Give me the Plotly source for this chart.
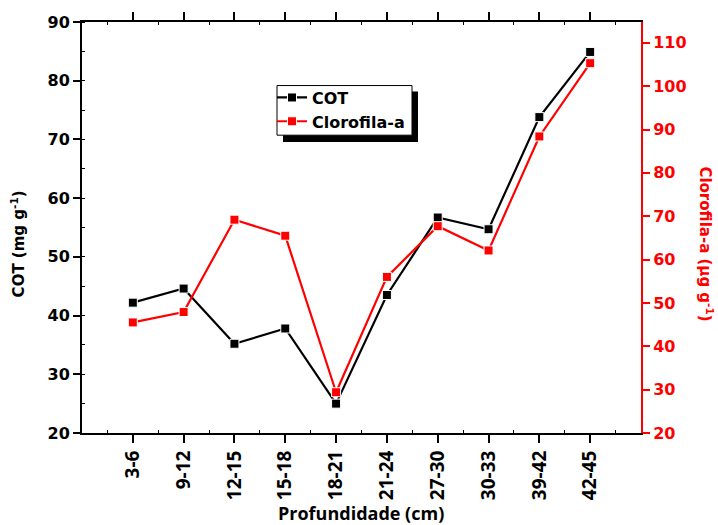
import plotly.graph_objects as go

categories = ["3-6", "9-12", "12-15", "15-18", "18-21", "21-24", "27-30", "30-33", "39-42", "42-45"]
cot = [42.2, 44.6, 35.2, 37.8, 25.0, 43.5, 56.7, 54.7, 73.8, 84.9]
clorofila = [45.5, 47.9, 69.2, 65.5, 29.4, 56.0, 67.7, 62.1, 88.4, 105.3]
left_ticks = [20, 30, 40, 50, 60, 70, 80, 90]
right_ticks = [20, 30, 40, 50, 60, 70, 80, 90, 100, 110]

xi = list(range(len(categories)))
YF = "DejaVu Sans"
XF = "Open Sans"

fig = go.Figure()
fig.add_trace(go.Scatter(
    x=xi, y=cot, name="COT", mode="lines+markers",
    line=dict(color="black", width=2.2),
    marker=dict(symbol="square", size=9, color="black", line=dict(color="white", width=1)),
))
fig.add_trace(go.Scatter(
    x=xi, y=clorofila, name="Clorofila-a", mode="lines+markers", yaxis="y2",
    line=dict(color="#ff0000", width=2.2),
    marker=dict(symbol="square", size=9, color="#ff0000", line=dict(color="white", width=1)),
))

L, R, T, B = 82, 77, 19, 92
W, H = 718, 525
pw, ph = W - L - R, H - T - B

def px(x):
    return (x - L) / pw

def py(y):
    return (H - B - y) / ph

fig.update_layout(
    width=W, height=H,
    margin=dict(l=L, r=R, t=T, b=B, pad=0),
    plot_bgcolor="white", paper_bgcolor="white",
    showlegend=True,
    legend=dict(
        x=px(272), y=py(78), xanchor="left", yanchor="top",
        bgcolor="rgba(0,0,0,0)", borderwidth=0,
        font=dict(family=YF, size=16, color="black", weight="bold"),
        itemwidth=30, tracegroupgap=0,
    ),
    xaxis=dict(
        range=[-1, 10], tickmode="array", tickvals=xi, ticktext=categories,
        tickangle=-90, ticks="outside", ticklen=8, tickwidth=2, tickcolor="black",
        showline=True, linecolor="black", linewidth=2, mirror="ticks",
        showgrid=False, zeroline=False,
        tickfont=dict(family=XF, size=19, color="black", weight="bold"),
        minor=dict(tickvals=[i - 0.5 for i in range(11)], ticks="inside", ticklen=3,
                   tickwidth=1, tickcolor="black", showgrid=False),
    ),
    yaxis=dict(
        range=[20, 90], tickmode="array", tickvals=left_ticks,
        ticks="outside", ticklen=7, tickwidth=2, tickcolor="black",
        showline=True, linecolor="black", linewidth=2,
        showgrid=False, zeroline=False,
        tickfont=dict(family=YF, size=16, color="black", weight="bold"),
        minor=dict(dtick=5, ticks="inside", ticklen=3, tickwidth=1, tickcolor="black", showgrid=False),
    ),
    yaxis2=dict(
        range=[20, 114.8], overlaying="y", side="right", anchor="x",
        tickmode="array", tickvals=right_ticks,
        ticks="outside", ticklen=7, tickwidth=2, tickcolor="#ff0000",
        showline=True, linecolor="#ff0000", linewidth=2,
        showgrid=False, zeroline=False,
        tickfont=dict(family=YF, size=16, color="#ff0000", weight="bold"),
    ),
    annotations=[
        dict(text="Profundidade (cm)", x=px(361), y=py(514), xref="paper", yref="paper",
             showarrow=False, xanchor="center", yanchor="middle",
             font=dict(family=XF, size=18, color="black", weight="bold")),
        dict(text="COT (mg g<sup>-1</sup>)", x=px(18), y=py(243), xref="paper", yref="paper",
             textangle=-90, showarrow=False, xanchor="center", yanchor="middle",
             font=dict(family=YF, size=15, color="black", weight="bold")),
        dict(text="Clorofila-a (µg g<sup>-1</sup>)", x=px(706), y=py(242), xref="paper", yref="paper",
             textangle=90, showarrow=False, xanchor="center", yanchor="middle",
             font=dict(family=YF, size=15, color="#ff0000", weight="bold")),
    ],
    shapes=[
        dict(type="rect", xref="paper", yref="paper",
             x0=px(283), x1=px(418), y0=py(140), y1=py(89),
             fillcolor="black", line=dict(width=0), layer="above"),
        dict(type="rect", xref="paper", yref="paper",
             x0=px(277), x1=px(412), y0=py(133), y1=py(83),
             fillcolor="white", line=dict(color="black", width=1), layer="above"),
    ],
)

fig.write_html("out.html")
